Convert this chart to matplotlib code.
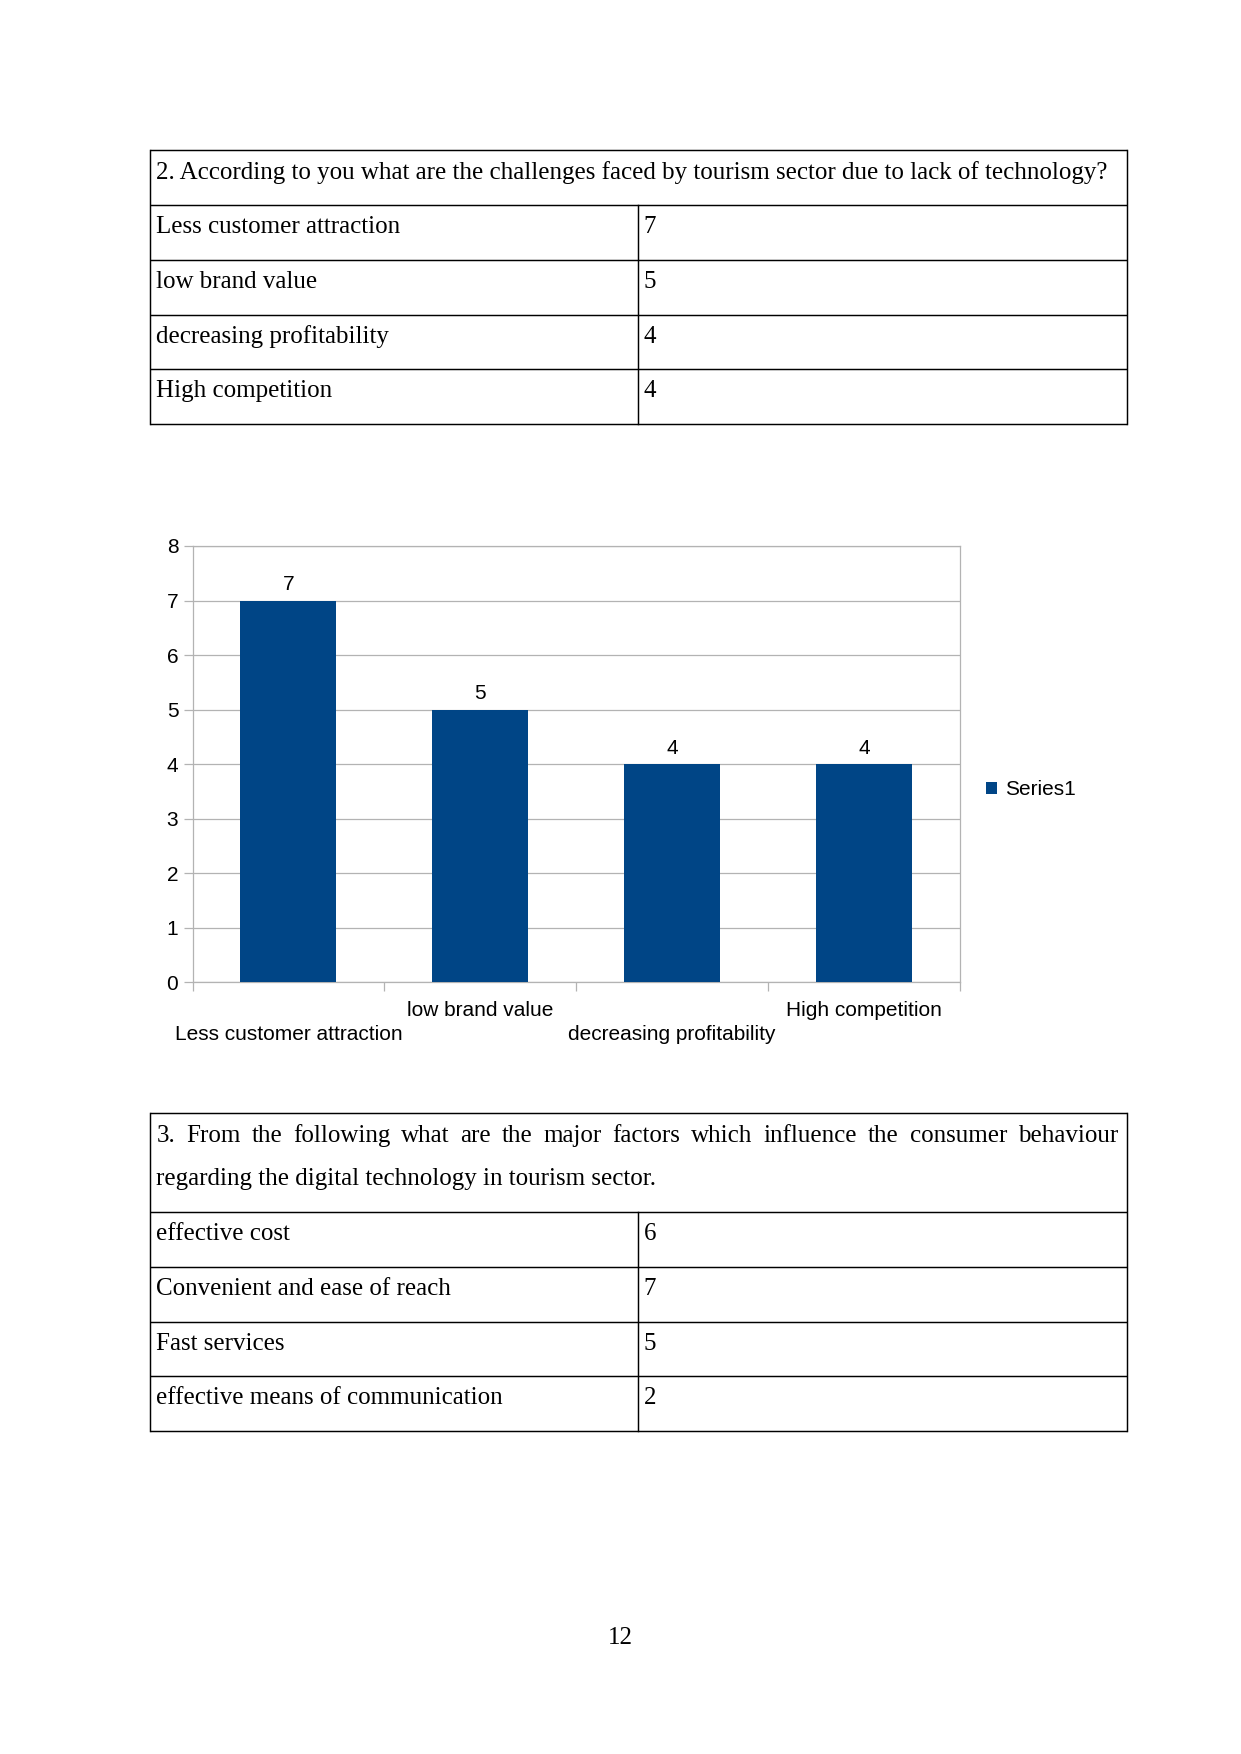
import matplotlib
matplotlib.use("Agg")
import matplotlib.pyplot as plt

# ---------------- data ----------------
q2_title = "2. According to you what are the challenges faced by tourism sector due to lack of technology?"
q2_labels = ["Less customer attraction", "low brand value", "decreasing profitability", "High competition"]
q2_values = [7, 5, 4, 4]

q3_title_lines = ["3. From the following what are the major factors which influence the consumer behaviour",
                  "regarding the digital technology in tourism sector."]
q3_labels = ["effective cost", "Convenient and ease of reach", "Fast services", "effective means of communication"]
q3_values = [6, 7, 5, 2]

series_name = "Series1"
y_ticks = [0, 1, 2, 3, 4, 5, 6, 7, 8]
page_number = "12"

BAR_COLOR = "#004586"
GRID = "#b3b3b3"
SERIF = "Liberation Serif"
SANS = "Liberation Sans"

W, H = 1241, 1754
fig = plt.figure(figsize=(W / 150, H / 150), dpi=150)

# page overlay axes in pixel coordinates
page = fig.add_axes([0, 0, 1, 1])
page.set_xlim(0, W)
page.set_ylim(H, 0)
page.axis("off")

LEFT, RIGHT, MID = 150, 1127, 638
TXT_X, VAL_X = 156.5, 643.5
LW = 0.7
FS = 12


def hline(y):
    page.plot([LEFT, RIGHT], [y, y], color="black", lw=LW, solid_capstyle="butt")


def draw_rows(top, labels, values, row_h):
    for i, (lab, val) in enumerate(zip(labels, values)):
        y0 = top + i * row_h
        page.text(TXT_X, y0 + 28, lab, family=SERIF, fontsize=FS, va="baseline", ha="left")
        page.text(VAL_X, y0 + 28, str(val), family=SERIF, fontsize=FS, va="baseline", ha="left")
        hline(y0 + row_h)
    bottom = top + len(labels) * row_h
    page.plot([MID, MID], [top, bottom], color="black", lw=LW)
    return bottom


# ---- table 1 ----
t1_top = 150
t1_head = 55
row_h = 54.8
hline(t1_top)
page.text(TXT_X, t1_top + 29, q2_title, family=SERIF, fontsize=FS, va="baseline")
hline(t1_top + t1_head)
t1_bottom = draw_rows(t1_top + t1_head, q2_labels, q2_values, row_h)
for x in (LEFT, RIGHT):
    page.plot([x, x], [t1_top, t1_bottom], color="black", lw=LW)

# ---- table 2 ----
t2_top = 1113
t2_head = 99
hline(t2_top)
# justified first line
renderer = fig.canvas.get_renderer()
words = q3_title_lines[0].split(" ")
just_right = 1118
tmp = [page.text(0, 0, w, family=SERIF, fontsize=FS) for w in words]
widths = [t.get_window_extent(renderer).width for t in tmp]
for t in tmp:
    t.remove()
gap = (just_right - TXT_X - sum(widths)) / (len(words) - 1)
x = TXT_X
for w, wd in zip(words, widths):
    page.text(x, t2_top + 29, w, family=SERIF, fontsize=FS, va="baseline", ha="left")
    x += wd + gap
page.text(TXT_X, t2_top + 72, q3_title_lines[1], family=SERIF, fontsize=FS, va="baseline")
hline(t2_top + t2_head)
t2_bottom = draw_rows(t2_top + t2_head, q3_labels, q3_values, row_h)
for x in (LEFT, RIGHT):
    page.plot([x, x], [t2_top, t2_bottom], color="black", lw=LW)

# page number
page.text(620, 1644, page_number, family=SERIF, fontsize=FS, ha="center", va="baseline")

# ---------------- chart ----------------
ax = fig.add_axes([192.5 / W, 1 - 982.5 / H, (960 - 192.5) / W, (982.5 - 546) / H])
xpos = list(range(len(q2_labels)))
bars = ax.bar(xpos, q2_values, width=0.5, color=BAR_COLOR, label=series_name, zorder=3)
ax.bar_label(bars, labels=[str(v) for v in q2_values], padding=3, family=SANS, fontsize=10)
ax.set_xlim(-0.5, len(q2_labels) - 0.5)
ax.set_ylim(0, 8)
ax.set_yticks(y_ticks)
ax.set_yticklabels([str(v) for v in y_ticks], family=SANS, fontsize=10)
ax.yaxis.grid(True, color=GRID, lw=0.6, zorder=0)
ax.set_axisbelow(True)
ax.set_xticks(xpos)
ax.set_xticklabels([("\n" + l) if i % 2 == 0 else l for i, l in enumerate(q2_labels)],
                   family=SANS, fontsize=10, linespacing=1.3)
ax.set_xticks([i - 0.5 for i in range(len(q2_labels) + 1)], minor=True)
ax.tick_params(axis="x", which="major", length=0, pad=9)
ax.tick_params(axis="x", which="minor", length=4.3, color=GRID, width=0.6, direction="out")
ax.tick_params(axis="y", length=4.3, color=GRID, width=0.6, pad=2.5)
for s in ax.spines.values():
    s.set_color(GRID)
    s.set_linewidth(0.6)

leg = ax.legend(loc="center left", bbox_to_anchor=(986 / W, 1 - 790 / H),
                bbox_transform=fig.transFigure, frameon=False, borderpad=0, borderaxespad=0,
                handlelength=0.55, handleheight=0.55, handletextpad=0.35,
                prop={"family": SANS, "size": 10})

fig.savefig("out.png", dpi=150)
